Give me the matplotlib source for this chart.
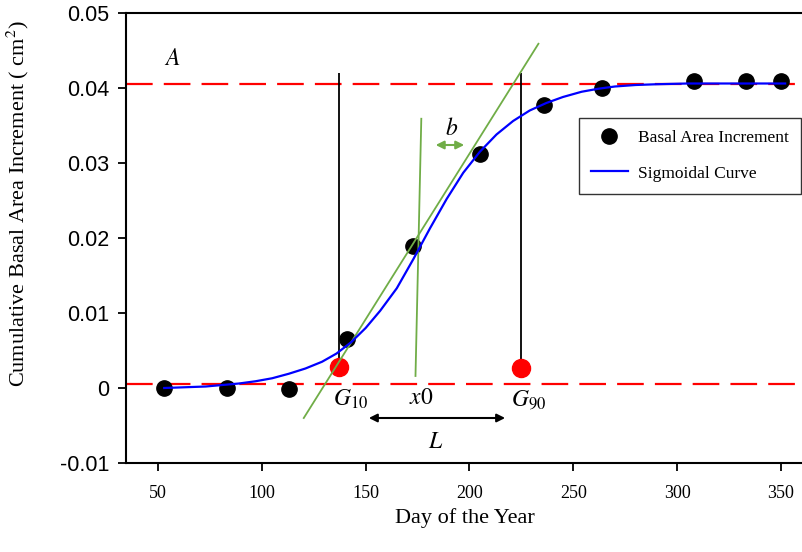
import matplotlib
matplotlib.use("Agg")
import matplotlib.pyplot as plt

plt.rcParams['mathtext.fontset'] = 'stix'

# measured basal area increment
days = [53, 83, 113, 141, 173, 205, 236, 264, 308, 333, 350]
bai = [0.0000, 0.0000, -0.0001, 0.0065, 0.0189, 0.0312, 0.0377, 0.0400, 0.0409, 0.0409, 0.0409]

# sigmoid curve
curve_days = [53, 63, 73, 81, 89, 97, 105, 113, 121, 129, 136, 143, 150, 157, 165, 173, 181,
              189, 197, 205, 213, 221, 229, 237, 245, 254, 262, 270, 280, 290, 305, 320, 335, 352]
curve_vals = [0.0000, 0.0001, 0.0002, 0.0004, 0.0006, 0.0009, 0.0013, 0.0019, 0.0026, 0.0035,
              0.0046, 0.0061, 0.0080, 0.0103, 0.0133, 0.0172, 0.0213, 0.0252, 0.0287, 0.0315,
              0.0338, 0.0356, 0.0370, 0.0380, 0.0388, 0.0395, 0.0399, 0.0402, 0.0404, 0.0405,
              0.0406, 0.0406, 0.0406, 0.0406]

upper_asym = 0.0405
lower_asym = 0.0006
g10_day, g90_day = 137, 225
g_vals = [0.0028, 0.0027]
vline_top = 0.042
tangent_x = [120.2, 233.2]
tangent_y = [-0.004, 0.0459]
steep_x = [174.0, 176.8]
steep_y = [0.0016, 0.0359]

xticks = [50, 100, 150, 200, 250, 300, 350]
yticks = [-0.01, 0, 0.01, 0.02, 0.03, 0.04, 0.05]
ytick_labels = ['-0.01', '0', '0.01', '0.02', '0.03', '0.04', '0.05']

green = '#70AD47'
serif = 'Liberation Serif'

fig = plt.figure(figsize=(8.03, 5.52), dpi=100)
ax = fig.add_axes([126/803, 1-463/552, 1-126/803, (463-13)/552])

ax.axhline(upper_asym, color='red', lw=1.6, ls=(0, (12, 5)), zorder=1)
ax.axhline(lower_asym, color='red', lw=1.6, ls=(0, (12, 5)), zorder=1)

ax.plot(days, bai, 'o', color='black', ms=11, zorder=2, label='Basal Area Increment')

ax.vlines([g10_day, g90_day], g_vals, vline_top, color='black', lw=1.3, zorder=3)
ax.plot([g10_day, g90_day], g_vals, 'o', color='red', ms=13, zorder=3)

ax.plot(tangent_x, tangent_y, color=green, lw=1.3, zorder=4)
ax.plot(steep_x, steep_y, color=green, lw=1.3, zorder=4)
ax.plot(curve_days, curve_vals, color='blue', lw=1.6, zorder=5, label='Sigmoidal Curve',
        solid_joinstyle='round')

ax.annotate('', xy=(182.4, 0.0324), xytext=(198.8, 0.0324),
            arrowprops=dict(arrowstyle='<|-|>', color=green, lw=1.5, mutation_scale=12))
ax.annotate('', xy=(150.2, -0.004), xytext=(218.5, -0.004),
            arrowprops=dict(arrowstyle='<|-|>', color='black', lw=1.5, mutation_scale=12))

ax.text(56.7, 0.044, '$A$', fontsize=17, ha='center', va='center')
ax.text(191.6, 0.0347, '$b$', fontsize=17, ha='center', va='center')
ax.text(142.9, -0.0015, '$G_{10}$', fontsize=17, ha='center', va='center')
ax.text(176.6, -0.0012, '$x0$', fontsize=17, ha='center', va='center')
ax.text(228.6, -0.0015, '$G_{90}$', fontsize=17, ha='center', va='center')
ax.text(183.9, -0.0071, '$L$', fontsize=17, ha='center', va='center')

ax.set_xlim(34.6, 360.6)
ax.set_ylim(-0.01, 0.05)
ax.set_xticks(xticks)
ax.set_xticklabels([str(t) for t in xticks], fontfamily=serif, fontsize=13)
ax.set_yticks(yticks)
ax.set_yticklabels(ytick_labels, fontfamily='Liberation Sans', fontsize=15.5)
ax.tick_params(direction='out', length=6, width=1.3, pad=6)
ax.tick_params(axis='x', pad=10)

for side in ['left', 'bottom', 'top']:
    ax.spines[side].set_linewidth(1.5)
ax.spines['right'].set_visible(False)

ax.set_xlabel('Day of the Year', fontfamily=serif, fontsize=16)
ax.set_ylabel('Cumulative Basal Area Increment ( cm$^2$)', fontfamily=serif, fontsize=16)
ax.xaxis.set_label_coords(0.5, -0.1)
ax.yaxis.set_label_coords(-0.141, 0.577)

leg = ax.legend(loc='upper left', bbox_to_anchor=((579-126)/677, (463-118)/450),
                prop={'family': serif, 'size': 12.5}, frameon=True, fancybox=False,
                edgecolor='black', borderpad=0.7, borderaxespad=0, labelspacing=1.1,
                handlelength=2.1, handletextpad=0.6)
leg.get_frame().set_linewidth(1.0)

fig.savefig('out.png', dpi=100)
